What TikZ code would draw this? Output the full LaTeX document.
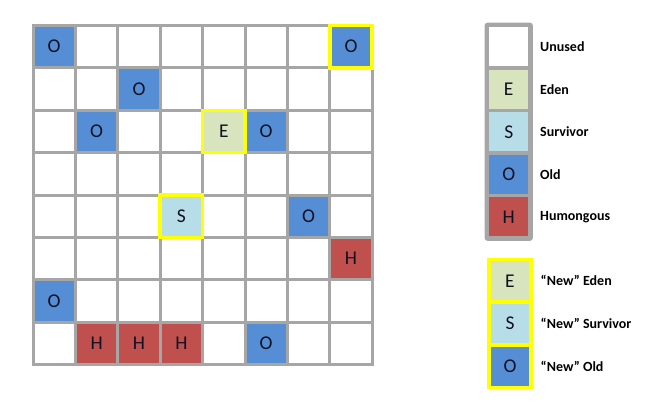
\documentclass[tikz,border=0pt]{standalone}
\usepackage{fontspec}
\setmainfont{Carlito}
\definecolor{oldc}{HTML}{558ED5}
\definecolor{edenc}{HTML}{D7E4BD}
\definecolor{survc}{HTML}{B7DEE8}
\definecolor{humc}{HTML}{C0504D}
\definecolor{gridc}{HTML}{A6A6A6}
\definecolor{hil}{HTML}{FFFF00}
\definecolor{txtc}{HTML}{111122}
\begin{document}
\begin{tikzpicture}[x=1pt,y=-1pt,
  region/.style={minimum size=42.4pt, inner sep=0pt, text=txtc, font=\fontsize{19.5}{19.5}\selectfont},
  gridline/.style={draw=gridc, line width=3pt},
  hl/.style={draw=hil, line width=3.5pt},
  old/.style={region, fill=oldc},
  eden/.style={region, fill=edenc},
  surv/.style={region, fill=survc},
  hum/.style={region, fill=humc},
  unused/.style={region, fill=white},
  legcell/.style={region, minimum size=42.5pt, draw=gridc, line width=3pt},
  newcell/.style={region, minimum width=42pt, minimum height=42.7pt, draw=hil, line width=3.5pt},
  lab/.style={anchor=west, inner sep=0pt, text=black, font=\bfseries\fontsize{14}{14}\selectfont}]
\useasboundingbox (0,0) rectangle (648,409);
\def\p{42.4}
\def\ox{33}
\def\oy{25.5}
% coloured regions of the heap
\foreach \r/\c/\t/\l/\n in {0/0/old/O/a,1/2/old/O/b,2/1/old/O/c,2/5/old/O/d,4/6/old/O/e,6/0/old/O/f,7/5/old/O/g,
    5/7/hum/H/h,7/1/hum/H/i,7/2/hum/H/j,7/3/hum/H/k}
  \node[\t] (cell-\n) at ({\ox+\p*(\c+0.5)},{\oy+\p*(\r+0.5)}) {\l};
% grid lines
\foreach \i in {0,...,8}{
  \draw[gridline] ({\ox+\p*\i},\oy-1.5) -- ({\ox+\p*\i},{\oy+8*\p+1.5});
  \draw[gridline] (\ox-1.5,{\oy+\p*\i}) -- ({\ox+8*\p+1.5},{\oy+\p*\i});
}
% newly allocated regions
\node[old, hl] (new-o) at ({\ox+\p*7.5},{\oy+\p*0.5}) {O};
\node[eden, hl] (new-e) at ({\ox+\p*4.5},{\oy+\p*2.5}) {E};
\node[surv, hl] (new-s) at ({\ox+\p*3.5},{\oy+\p*4.5}) {S};
% legend
\foreach \i/\t/\l/\txt in {0/unused//Unused,1/eden/E/Eden,2/surv/S/Survivor,3/old/O/Old,4/hum/H/Humongous}{
  \node[legcell, \t] (leg-\i) at (508.75,{25.5+42.5*(\i+0.5)}) {\l};
  \node[lab] (legl-\i) at (540,{25.5+42.5*(\i+0.5)}) {\txt};
}
\draw[gridc, line width=3pt, rounded corners=2pt] (leg-0.north west) rectangle (leg-4.south east);
\foreach \i/\t/\l/\txt in {0/eden/E/Eden,1/surv/S/Survivor,2/old/O/Old}{
  \node[newcell, \t] (nleg-\i) at (510,{259.5+42.7*(\i+0.5)}) {\l};
  \node[lab] (nlegl-\i) at (540.5,{259.5+42.7*(\i+0.5)}) {“New” \txt};
}
\end{tikzpicture}
\end{document}
